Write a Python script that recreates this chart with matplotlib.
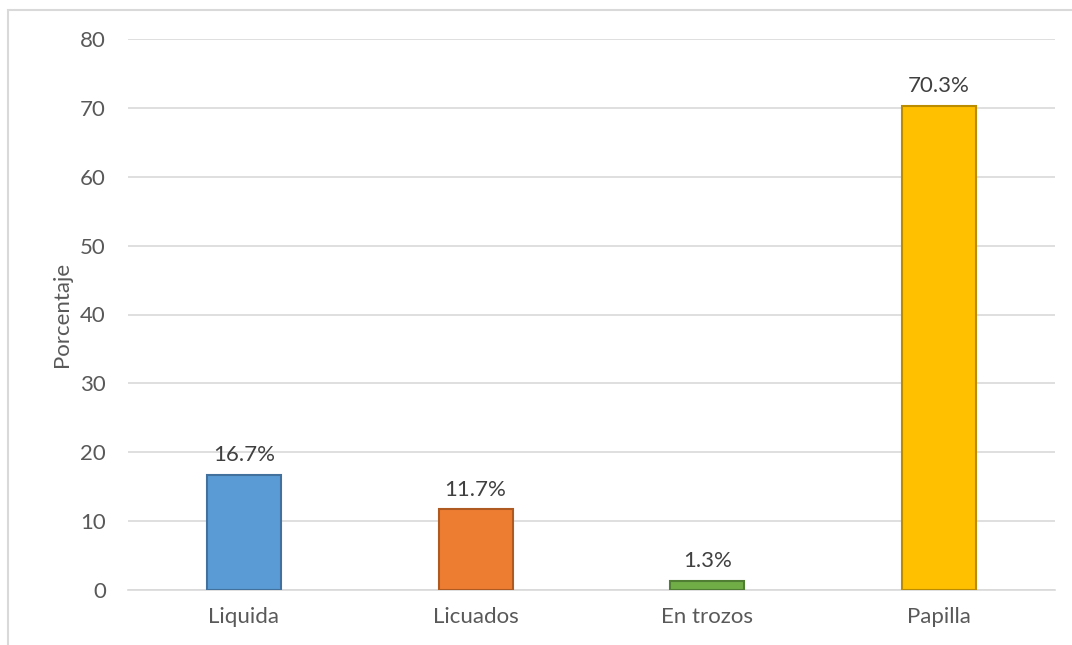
import matplotlib
matplotlib.use('Agg')
import matplotlib.pyplot as plt
import matplotlib.patches as patches

categorias = ['Liquida', 'Licuados', 'En trozos', 'Papilla']
porcentajes = [16.7, 11.7, 1.3, 70.3]
etiquetas = ['16.7%', '11.7%', '1.3%', '70.3%']
colores = ['#5B9BD5', '#ED7D31', '#70AD47', '#FFC000']
bordes = ['#41719C', '#AE5A21', '#507E32', '#BC8C00']
yticks = [0, 10, 20, 30, 40, 50, 60, 70, 80]

plt.rcParams['font.family'] = ['Lato', 'DejaVu Sans']
gris = '#595959'

fig = plt.figure(figsize=(10.72, 6.45), dpi=100)
ax = fig.add_axes([128/1072, 1 - 590/645, (1055 - 128)/1072, (590 - 39)/645])

# marco del grafico
fig.patches.append(patches.Rectangle((8/1072, -0.1), 1.2, 1 - 10/645 + 0.1,
                                     transform=fig.transFigure, fill=False,
                                     edgecolor='#D9D9D9', linewidth=1.5))

x = range(len(categorias))
ax.bar(x, porcentajes, width=0.32, color=colores, edgecolor=bordes,
       linewidth=1.5, zorder=3)

for i, v in enumerate(porcentajes):
    ax.annotate(etiquetas[i], (i, v), xytext=(0, 7), textcoords='offset points',
                ha='center', va='bottom', fontsize=16, color='#404040')

ax.set_xlim(-0.5, len(categorias) - 0.5)
ax.set_ylim(0, 80)
ax.set_yticks(yticks)
ax.set_xticks(list(x))
ax.set_xticklabels(categorias)
ax.tick_params(axis='both', length=0, labelsize=16, colors=gris)
ax.tick_params(axis='y', pad=16)
ax.tick_params(axis='x', pad=12)
ax.yaxis.grid(True, color='#D9D9D9', linewidth=1.2, zorder=0)
for s in ['top', 'right', 'left']:
    ax.spines[s].set_visible(False)
ax.spines['bottom'].set_color('#D9D9D9')
ax.spines['bottom'].set_linewidth(1.2)
ax.set_ylabel('Porcentaje', fontsize=16, color=gris, labelpad=6)

fig.savefig('out.png', dpi=100)
